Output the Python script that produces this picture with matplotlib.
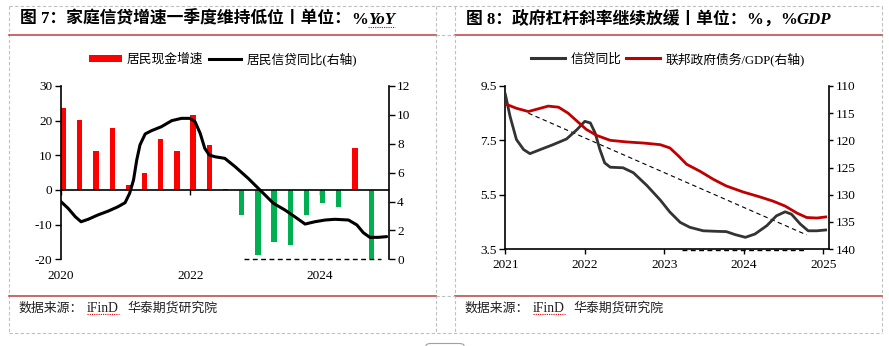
import matplotlib
matplotlib.use("Agg")
import matplotlib.pyplot as plt
from matplotlib.lines import Line2D
from matplotlib.patches import Patch, FancyBboxPatch

plt.rcParams['font.family'] = ['Liberation Serif', 'Noto Sans CJK SC', 'DejaVu Sans']
plt.rcParams['axes.unicode_minus'] = False

# ---------------- data: figure 7 ----------------
quarters = [2020.00, 2020.25, 2020.50, 2020.75, 2021.00, 2021.25, 2021.50, 2021.75,
            2022.00, 2022.25, 2022.50, 2022.75, 2023.00, 2023.25, 2023.50, 2023.75,
            2024.00, 2024.25, 2024.50, 2024.75]
cash_growth = [23.7, 20.2, 11.3, 17.9, 1.5, 4.9, 14.7, 11.3,
               21.7, 13.0, 0.4, -7.2, -18.9, -14.9, -15.9, -7.2,
               -3.7, -4.8, 12.1, -20.0]
credit_x = [2020.00, 2020.11, 2020.22, 2020.31, 2020.42, 2020.57, 2020.73, 2020.88,
            2020.99, 2021.06, 2021.12, 2021.17, 2021.22, 2021.30, 2021.40, 2021.55,
            2021.71, 2021.86, 2021.99, 2022.07, 2022.15, 2022.22, 2022.29, 2022.38,
            2022.53, 2022.69, 2022.89, 2023.10, 2023.28, 2023.46, 2023.61, 2023.77,
            2023.92, 2024.08, 2024.23, 2024.44, 2024.57, 2024.67, 2024.77, 2024.90,
            2025.03]
credit_y = [3.99, 3.53, 2.95, 2.60, 2.77, 3.07, 3.34, 3.64,
            3.92, 4.57, 5.49, 6.88, 7.92, 8.68, 8.91, 9.18,
            9.60, 9.76, 9.76, 9.53, 8.72, 7.69, 7.22, 7.10,
            6.99, 6.41, 5.61, 4.68, 3.88, 3.41, 2.95, 2.44,
            2.60, 2.72, 2.77, 2.72, 2.38, 1.84, 1.52, 1.52,
            1.57]
zero_dash_x = [2022.83, 2024.94]
zero_dash_y = [0, 0]
left_xticks = [2020, 2022, 2024]
left_yticks = [-20, -10, 0, 10, 20, 30]
left_y2ticks = [0, 2, 4, 6, 8, 10, 12]

# ---------------- data: figure 8 ----------------
loan_x = [2021.00, 2021.06, 2021.14, 2021.23, 2021.31, 2021.44, 2021.60, 2021.77,
          2021.90, 2022.00, 2022.07, 2022.13, 2022.19, 2022.25, 2022.32, 2022.48,
          2022.61, 2022.78, 2022.95, 2023.07, 2023.20, 2023.32, 2023.49, 2023.66,
          2023.78, 2023.89, 2024.02, 2024.14, 2024.29, 2024.41, 2024.52, 2024.60,
          2024.71, 2024.81, 2024.92, 2025.03]
loan_y = [9.20, 8.38, 7.53, 7.16, 7.01, 7.16, 7.34, 7.55,
          7.89, 8.20, 8.14, 7.77, 7.16, 6.67, 6.51, 6.49,
          6.31, 5.84, 5.30, 4.86, 4.48, 4.30, 4.17, 4.15,
          4.14, 4.03, 3.93, 4.05, 4.36, 4.72, 4.87, 4.78,
          4.42, 4.17, 4.17, 4.20]
debt_x = [2021.00, 2021.14, 2021.29, 2021.39, 2021.54, 2021.67, 2021.79, 2021.92,
          2022.02, 2022.15, 2022.32, 2022.53, 2022.74, 2022.95, 2023.07, 2023.18,
          2023.28, 2023.45, 2023.62, 2023.78, 2023.99, 2024.20, 2024.37, 2024.52,
          2024.67, 2024.79, 2024.92, 2025.03]
debt_y = [113.3, 114.1, 114.7, 114.3, 113.7, 113.9, 115.0, 116.7,
          118.0, 119.1, 120.0, 120.3, 120.5, 120.8, 121.4, 122.9,
          124.4, 125.7, 127.2, 128.4, 129.5, 130.4, 131.2, 132.1,
          133.4, 134.2, 134.3, 134.1]
trend_x = [2021.29, 2024.79]
trend_y = [8.50, 4.02]
base_dash_x = [2023.22, 2024.79]
base_dash_y = [3.45, 3.45]
right_xticks = [2021, 2022, 2023, 2024, 2025]
right_yticks = [3.5, 5.5, 7.5, 9.5]
right_y2ticks = [110, 115, 120, 125, 130, 135, 140]

W, H = 889, 346
fig = plt.figure(figsize=(W / 100, H / 100), dpi=100)
fig.patch.set_facecolor('white')


def fx(x):
    return x / W


def fy(y):
    return 1 - y / H


def hline(x0, x1, y, **kw):
    fig.add_artist(Line2D([fx(x0), fx(x1)], [fy(y), fy(y)], transform=fig.transFigure, **kw))


def vline(x, y0, y1, **kw):
    fig.add_artist(Line2D([fx(x), fx(x)], [fy(y0), fy(y1)], transform=fig.transFigure, **kw))


# ---------------- frame decorations ----------------
gray = dict(color='#C0C0C0', lw=0.8, linestyle=(0, (3, 2)))
red = dict(color='#C0504D', lw=1.2)
hline(9, 882, 6, **gray)
hline(9, 882, 333.3, **gray)
for xv in (9.3, 436, 455.3, 881.7):
    vline(xv, 6, 333.3, **gray)
hline(9.3, 436, 35, **red)
hline(455.3, 881.7, 35, **red)
hline(436, 455.3, 35, **gray)
hline(9.3, 436, 296, **red)
hline(455.3, 881.7, 296, **red)
hline(436, 455.3, 296, **gray)
fig.add_artist(FancyBboxPatch((fx(426), fy(352)), fx(38), 8.5 / H,
                              boxstyle='round,pad=0,rounding_size=0.006',
                              transform=fig.transFigure, fc='white', ec='#A0A0A0', lw=0.8))

renderer = fig.canvas.get_renderer()


def seq_text(x, y, pieces):
    for s, props in pieces:
        t = fig.text(fx(x), fy(y), s, ha='left', va='baseline', **props)
        bb = t.get_window_extent(renderer)
        x += bb.width
    return x


tb = dict(fontsize=12.1, fontweight='bold', color='black')
tbi = dict(fontsize=12.1, fontweight='bold', style='italic', color='black')
x_end = seq_text(20, 23.5, [('图 7：家庭信贷增速一季度维持低位丨单位：', tb), ('%', tb)])
x_yoy_end = seq_text(x_end, 23.5, [('YoY', tbi)])
hline(x_end, x_yoy_end, 26.5, color='#E00000', lw=0.8, linestyle=(0, (1, 1)))
seq_text(465.7, 23.5, [('图 8：政府杠杆斜率继续放缓丨单位：', tb), ('%', tb),
                       ('，', tb), ('%', tb), ('GDP', tbi)])

src = dict(fontsize=9.3, color='#202020')
srci = dict(fontsize=9.8, color='#202020')
for x0 in (18.3, 464.5):
    xa = seq_text(x0, 311.5, [('数据来源：', src)]) + 4
    xb = seq_text(xa, 311.5, [('iFinD', srci)])
    hline(xa, xb, 314, color='#E00000', lw=0.8, linestyle=(0, (1, 1)))
    seq_text(xb + 9, 311.5, [('华泰期货研究院', src)])

# ---------------- figure 7 ----------------
ax1 = fig.add_axes([fx(61), fy(259.3), 328 / W, 173.3 / H])
ax1b = ax1.twinx()
bar_colors = ['#FF0000' if v >= 0 else '#00B050' for v in cash_growth]
ax1.bar(quarters, cash_growth, width=0.082, align='edge', color=bar_colors, zorder=2)
ax1.axhline(0, color='black', lw=1.2, zorder=3)
ax1.set_ylim(-20, 30)
ax1.set_xlim(2020.0, 2025.066)
ax1.set_yticks(left_yticks)
ax1.set_xticks(left_xticks)
ax1.set_xticklabels([str(v) for v in left_xticks])
ax1.tick_params(axis='x', length=0, pad=8, labelsize=9.5)
ax1.tick_params(axis='y', direction='out', length=4.3, width=1, pad=2, labelsize=9.5)
for s in ('top', 'bottom'):
    ax1.spines[s].set_visible(False)
ax1.spines['left'].set_linewidth(1.2)
ax1.spines['right'].set_visible(False)
sec = ax1.secondary_xaxis(0.4)
sec.set_xticks(left_xticks)
sec.set_xticklabels([])
sec.tick_params(direction='out', length=3.8, width=1)
sec.spines['bottom'].set_visible(False)

ax1b.plot(credit_x, credit_y, color='black', lw=2.2, zorder=4, solid_capstyle='round')
ax1b.plot(zero_dash_x, zero_dash_y, color='black', lw=1.0, linestyle=(0, (3.5, 2.5)), clip_on=False)
ax1b.set_ylim(0, 12)
ax1b.set_yticks(left_y2ticks)
ax1b.tick_params(axis='y', direction='out', length=4.3, width=1, pad=1.5, labelsize=9.5)
for s in ('top', 'bottom', 'left'):
    ax1b.spines[s].set_visible(False)
ax1b.spines['right'].set_linewidth(1.2)

h1 = [Patch(facecolor='#FF0000'), Line2D([], [], color='black', lw=2.2)]
fig.legend(h1, ['居民现金增速', '居民信贷同比(右轴)'], loc='center',
           bbox_to_anchor=(fx(223), fy(59)), bbox_transform=fig.transFigure, ncol=2,
           frameon=False, fontsize=9.2, handlelength=2.55, handleheight=0.55,
           handletextpad=0.4, columnspacing=0.4, borderpad=0)

# ---------------- figure 8 ----------------
ax2 = fig.add_axes([fx(505.3), fy(249), (829 - 505.3) / W, 163 / H])
ax2b = ax2.twinx()
ax2.plot(loan_x, loan_y, color='#333333', lw=2.0, zorder=4)
ax2.plot(trend_x, trend_y, color='black', lw=0.8, linestyle=(0, (4, 3)), zorder=3)
ax2.plot(base_dash_x, base_dash_y, color='black', lw=1.0, linestyle=(0, (3.5, 2.5)), clip_on=False)
ax2.set_xlim(2021.0, 2021 + (829 - 505.3) / 79.5)
ax2.set_ylim(3.5, 9.5)
ax2.set_yticks(right_yticks)
ax2.set_yticklabels(['3.5', '5.5', '7.5', '9.5'])
ax2.set_xticks(right_xticks)
ax2.tick_params(axis='x', direction='out', length=3.6, width=1, pad=3.5, labelsize=9.5)
ax2.tick_params(axis='y', direction='out', length=4.3, width=1, pad=2, labelsize=9.5)
ax2.spines['top'].set_visible(False)
ax2.spines['right'].set_visible(False)
ax2.spines['left'].set_linewidth(1.2)
ax2.spines['bottom'].set_linewidth(1.2)

ax2b.plot(debt_x, debt_y, color='#C00000', lw=2.0, zorder=4)
ax2b.set_ylim(140, 110)
ax2b.set_yticks(right_y2ticks)
ax2b.tick_params(axis='y', direction='out', length=3.2, width=1, pad=2, labelsize=9.5)
for s in ('top', 'bottom', 'left'):
    ax2b.spines[s].set_visible(False)
ax2b.spines['right'].set_linewidth(1.2)

h2 = [Line2D([], [], color='#333333', lw=2.2), Line2D([], [], color='#C00000', lw=2.2)]
fig.legend(h2, ['信贷同比', '联邦政府债务/GDP(右轴)'], loc='center',
           bbox_to_anchor=(fx(668), fy(59)), bbox_transform=fig.transFigure, ncol=2,
           frameon=False, fontsize=9.2, handlelength=2.65,
           handletextpad=0.4, columnspacing=0.4, borderpad=0)

fig.savefig('out.png', dpi=100, facecolor='white')
